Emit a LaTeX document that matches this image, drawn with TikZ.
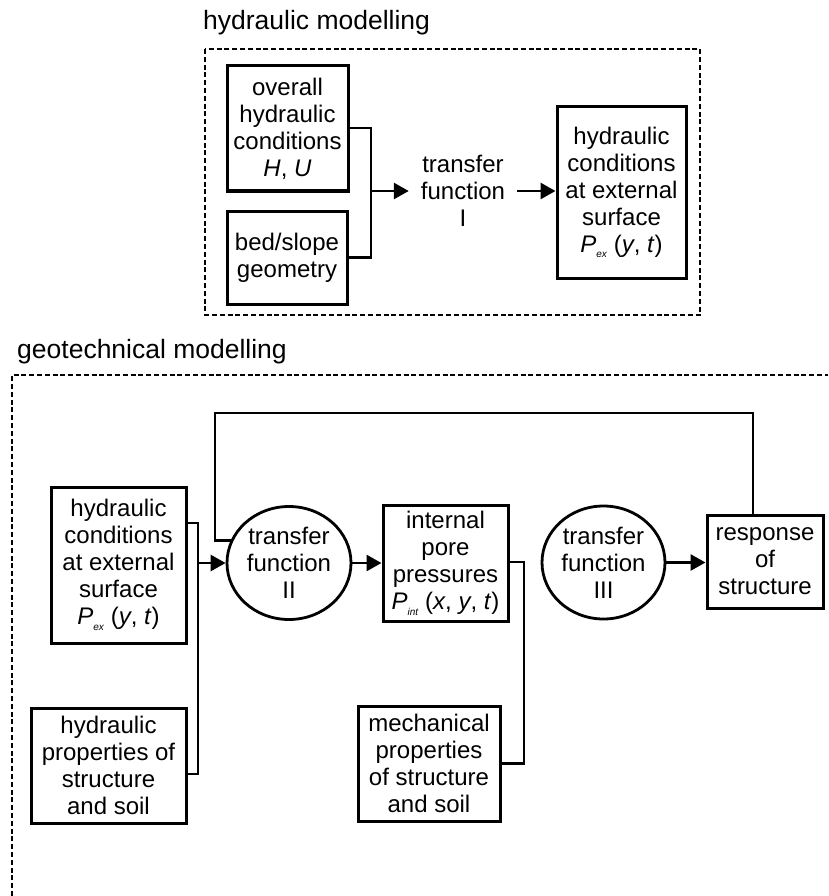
\documentclass[tikz,border=0pt]{standalone}
\usepackage{fontspec}
\setmainfont{Liberation Sans}
\usetikzlibrary{arrows.meta,shapes.geometric}
\newcommand{\subsc}[1]{\raisebox{-0.45ex}{\fontsize{10}{10}\selectfont\textit{#1}}}
\tikzset{
  blk/.style={draw, line width=3pt, align=center, inner sep=0pt,
    font=\fontsize{24}{27}\selectfont},
  circ/.style={draw, ellipse, line width=2.8pt, align=center, inner sep=0pt,
    font=\fontsize{24}{27}\selectfont},
  plain/.style={align=center, inner sep=12pt, font=\fontsize{24}{27}\selectfont},
  ttl/.style={anchor=base west, inner sep=0pt, font=\fontsize{26.5}{30}\selectfont},
  conn/.style={line width=2.8pt},
  arr/.style={line width=2.8pt, -{Triangle[length=15pt,width=16pt]}},
  frame/.style={line width=2.6pt, dash pattern=on 5pt off 2.8pt}
}
\begin{document}
\begin{tikzpicture}[x=1pt,y=-1pt]
\useasboundingbox (0,0) rectangle (828,896);

% titles
\node[ttl] (t1) at (203,30) {hydraulic modelling};
\node[ttl] (t2) at (17,358) {geotechnical modelling};

% frames
\draw[frame] (205,49) rectangle (700,315);
\draw[frame] (12,896) -- (12,375) -- (828,375);

% hydraulic modelling
\node[blk, minimum width=121pt, minimum height=125pt] (ov) at (287.5,128.5)
  {overall\\hydraulic\\conditions\\\textit{H}, \textit{U}};
\node[blk, minimum width=120pt, minimum height=93pt] (bed) at (287,257.5)
  {bed/slope\\geometry};
\node[plain] (tf1) at (463,191) {transfer\\function\\I};
\node[blk, minimum width=129pt, minimum height=171pt] (hc) at (621.5,192.5)
  {hydraulic\\conditions\\at external\\surface\\\textit{P}\subsc{ex} (\textit{y}, \textit{t})};

\coordinate (j1) at (371,191);
\draw[conn] (ov.east |- 0,128) -| (j1) |- (bed.east);
\draw[arr] (j1) -- (tf1.west);
\draw[arr] (tf1.east) -- (tf1.east -| hc.west);

% geotechnical modelling
\node[blk, minimum width=135pt, minimum height=156pt] (hcg) at (118.5,565)
  {hydraulic\\conditions\\at external\\surface\\\textit{P}\subsc{ex} (\textit{y}, \textit{t})};
\node[blk, minimum width=155pt, minimum height=115pt] (hp) at (108.5,765.5)
  {hydraulic\\properties of\\structure\\and soil};
\node[circ, minimum width=124pt, minimum height=113pt] (c2) at (289,563)
  {transfer\\function\\II};
\node[blk, minimum width=125pt, minimum height=116pt] (ip) at (445.5,563)
  {internal\\pore\\pressures\\\textit{P}\subsc{int} (\textit{x}, \textit{y}, \textit{t})};
\node[blk, minimum width=142pt, minimum height=115pt] (mp) at (429,763.5)
  {mechanical\\properties\\of structure\\and soil};
\node[circ, minimum width=123pt, minimum height=113pt] (c3) at (603.5,562.5)
  {transfer\\function\\III};
\node[blk, minimum width=116pt, minimum height=93pt] (rs) at (765,561.5)
  {response\\of\\structure};

\coordinate (j2) at (198,563);
\draw[conn] (hcg.east |- 0,523) -| (j2) |- (hp.east |- 0,774);
\draw[arr] (j2) -- (c2.west);
\draw[arr] (c2.east) -- (c2.east -| ip.west);

\coordinate (j3) at (524,562);
\draw[conn] (ip.east |- j3) -- (j3) |- (mp.east);

\draw[arr] (c3.east) -- (c3.east -| rs.west);

\coordinate (fbL) at (215,413);
\draw[conn] ([xshift=-12pt]rs.north) |- (fbL) |- (c2.159);
\end{tikzpicture}
\end{document}
